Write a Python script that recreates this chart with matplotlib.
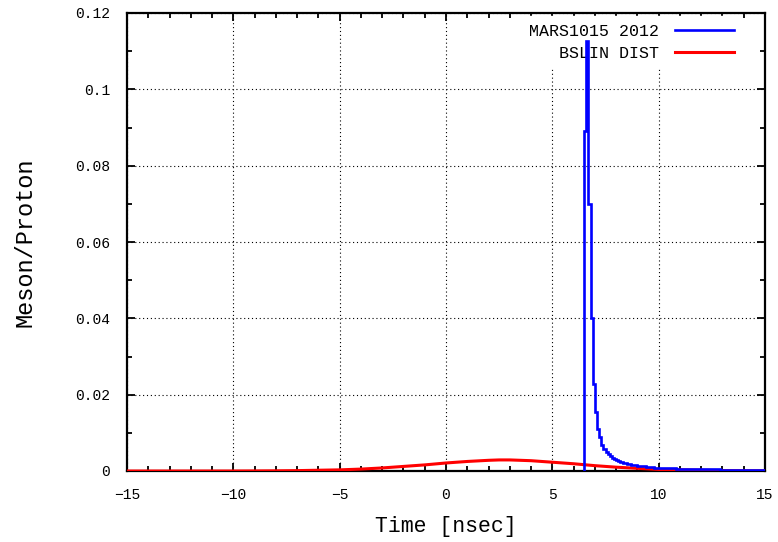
import numpy as np
import matplotlib
matplotlib.use("Agg")
import matplotlib.pyplot as plt

# ---- data ----
mars_bin_start = 6.5
mars_bin_width = 0.1
mars_values = [
    0.0890, 0.1127, 0.0700, 0.0400, 0.0228, 0.0155, 0.0110, 0.0089, 0.0068, 0.0058,  # 6.5-7.4
    0.0050, 0.0044, 0.0039, 0.0035, 0.0031, 0.0028, 0.0026, 0.0024, 0.0022, 0.0020,  # 7.5-8.4
    0.0019, 0.0018, 0.0017, 0.0016, 0.0015, 0.0014, 0.0013, 0.0013, 0.0012, 0.0011,  # 8.5-9.4
    0.0011, 0.0010, 0.0010, 0.0009, 0.0009, 0.0009, 0.0008, 0.0008, 0.0008, 0.0007,  # 9.5-10.4
    0.0007, 0.0007, 0.0007, 0.0006, 0.0006, 0.0006, 0.0006, 0.0006, 0.0005, 0.0005,  # 10.5-11.4
    0.0005, 0.0005, 0.0005, 0.0005, 0.0004, 0.0004, 0.0004, 0.0004, 0.0004, 0.0004,  # 11.5-12.4
    0.0004, 0.0004, 0.0004, 0.0004, 0.0003, 0.0003, 0.0003, 0.0003, 0.0003, 0.0003,  # 12.5-13.4
    0.0003, 0.0003, 0.0003, 0.0003, 0.0003, 0.0002, 0.0002, 0.0002, 0.0002, 0.0002,  # 13.5-14.4
    0.0002, 0.0002, 0.0002, 0.0002, 0.0002,                                          # 14.5-14.9
]

bslin_time = [-15, -12, -10, -9, -8, -7, -6, -5, -4, -3, -2, -1, 0, 1, 2, 2.5, 3,
              4, 5, 6, 7, 8, 9, 10, 11, 12, 13, 14, 15]
bslin_values = [0.0, 0.0, 0.0, 0.00002, 0.00005, 0.0001, 0.0002, 0.0003, 0.0005,
                0.0008, 0.0012, 0.0016, 0.0021, 0.0025, 0.0028, 0.0029, 0.0029,
                0.0027, 0.0023, 0.0019, 0.0014, 0.0010, 0.0007, 0.0004, 0.0003,
                0.0002, 0.0001, 0.00005, 0.00003]

labels = ["MARS1015 2012", "BSLIN DIST"]
x_ticks = [-15, -10, -5, 0, 5, 10, 15]
y_ticks = [0, 0.02, 0.04, 0.06, 0.08, 0.1, 0.12]
y_ticklabels = ["0", "0.02", "0.04", "0.06", "0.08", "0.1", "0.12"]

# ---- plot ----
plt.rcParams['font.family'] = ['Liberation Mono', 'DejaVu Sans Mono']
fig = plt.figure(figsize=(7.78, 5.42), dpi=100)
ax = fig.add_axes([127/778, 1-471/542, (765-127)/778, (471-13)/542])

edges = mars_bin_start + mars_bin_width * np.arange(len(mars_values) + 1)
ax.stairs(mars_values, edges, color='#0000ff', linewidth=1.9, baseline=0, zorder=4,
          label=labels[0])
ax.plot(bslin_time, bslin_values, color='#ff0000', linewidth=2.2, zorder=3,
        label=labels[1])

ax.set_xlim(-15, 15)
ax.set_ylim(0, 0.12)
ax.set_xticks(x_ticks)
ax.set_xticklabels([str(t) if t >= 0 else "\u2212" + str(-t) for t in x_ticks])
ax.set_yticks(y_ticks)
ax.set_yticklabels(y_ticklabels)
ax.set_xticks(np.arange(-15, 15.01, 1), minor=True)
ax.set_yticks(np.arange(0, 0.1201, 0.01), minor=True)
ax.tick_params(which='both', direction='in', top=True, right=True, width=1.3,
               labelsize=10.5)
ax.tick_params(which='major', length=6)
ax.tick_params(which='minor', length=3.5)
ax.tick_params(axis='x', pad=12)
ax.tick_params(axis='y', pad=12)

ax.grid(True, which='major', color='black', linestyle=(0, (1, 2.5)), linewidth=0.8)
ax.set_axisbelow(True)
for s in ax.spines.values():
    s.set_linewidth(1.6)

ax.set_xlabel("Time [nsec]", fontsize=15.5, labelpad=10)
ax.set_ylabel("Meson/Proton", fontsize=17, labelpad=28)

leg = ax.legend(loc='upper right', bbox_to_anchor=(0.968, 1.0), markerfirst=False,
                frameon=True, fontsize=12, handlelength=3.5, handletextpad=1.0,
                labelspacing=0.4, borderaxespad=0.2, borderpad=0.45, fancybox=False)
leg.get_frame().set_edgecolor('white')
leg.get_frame().set_facecolor('white')
leg.get_frame().set_alpha(1.0)
leg.set_zorder(2.5)

fig.savefig("out.png", dpi=100)
